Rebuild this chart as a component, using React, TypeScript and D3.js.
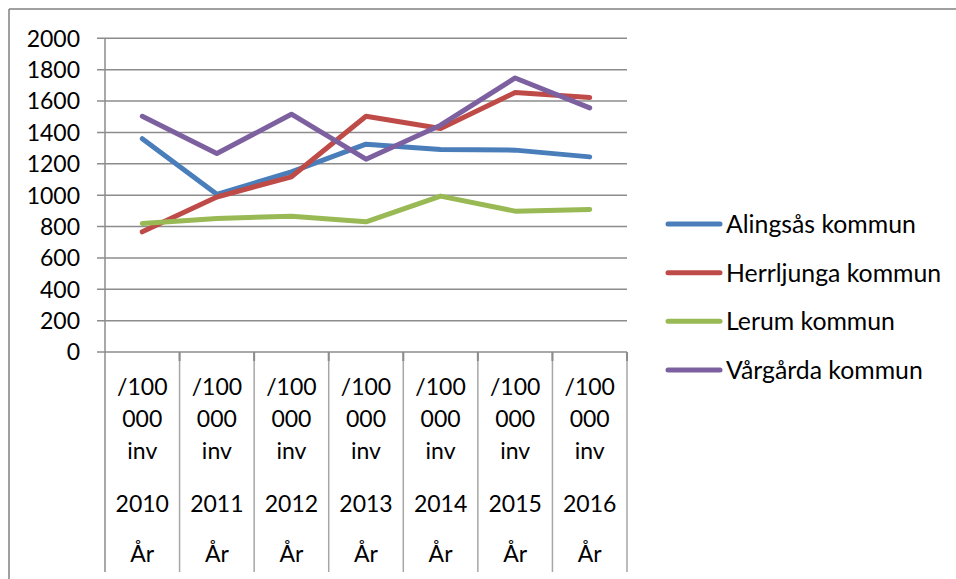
import React from 'react'
import * as d3 from 'd3'

const years = ['2010', '2011', '2012', '2013', '2014', '2015', '2016']
const unitLines = ['/100', '000', 'inv']
const yearPrefix = 'År'
const yTicks = [0, 200, 400, 600, 800, 1000, 1200, 1400, 1600, 1800, 2000]

const alingsas = [1360, 1005, 1148, 1325, 1291, 1287, 1244]
const herrljunga = [766, 988, 1117, 1503, 1425, 1654, 1622]
const lerum = [820, 851, 866, 830, 994, 898, 909]
const vargarda = [1503, 1265, 1516, 1229, 1446, 1747, 1556]

const seriesNames = ['Alingsås kommun', 'Herrljunga kommun', 'Lerum kommun', 'Vårgårda kommun']
const seriesColors = ['#4a7ebb', '#be4b48', '#98b954', '#7d60a0']

const W = 956
const H = 579
const plot = { left: 105, right: 627, top: 38.3, bottom: 352 }
const font = 'Lato, "Open Sans", sans-serif'

const App: React.FC = () => {
  const series = [alingsas, herrljunga, lerum, vargarda]

  const x = d3.scaleBand<string>()
    .domain(years)
    .range([plot.left, plot.right])
    .paddingInner(0)
    .paddingOuter(0)

  const y = d3.scaleLinear()
    .domain([0, 2000])
    .range([plot.bottom, plot.top])

  const line = d3.line<number>()
    .x((_, i) => (x(years[i]) ?? 0) + x.bandwidth() / 2)
    .y(d => y(d))

  const legendY = d3.scalePoint<string>()
    .domain(seriesNames)
    .range([224, 370])

  const gridColor = '#8c8c8c'

  return (
    <svg
      width={W}
      height={H}
      style={{ position: 'absolute', left: 0, top: 0, background: '#fff' }}
    >
      {/* chart frame (top & left visible) */}
      <line x1={9} y1={9} x2={W} y2={9} stroke="#808080" strokeWidth={1.5} />
      <line x1={9} y1={9} x2={9} y2={H} stroke="#808080" strokeWidth={1.5} />

      {/* gridlines + y labels */}
      {yTicks.map(t => (
        <g key={t}>
          <line
            x1={97}
            x2={plot.right}
            y1={y(t)}
            y2={y(t)}
            stroke={gridColor}
            strokeWidth={1.5}
          />
          <text
            x={80}
            y={y(t) + 8.4}
            textAnchor="end"
            fontFamily={font}
            fontSize={23}
            fill="#000"
          >
            {t}
          </text>
        </g>
      ))}

      {/* y axis */}
      <line x1={plot.left} x2={plot.left} y1={plot.top} y2={572} stroke={gridColor} strokeWidth={1.5} />

      {/* category dividers */}
      {years.map(yr => {
        const xr = (x(yr) ?? 0) + x.bandwidth()
        return (
          <g key={yr}>
            <line x1={xr} x2={xr} y1={plot.bottom} y2={572} stroke="#a6a6a6" strokeWidth={1.5} />
            <line x1={xr} x2={xr} y1={plot.bottom} y2={plot.bottom + 9} stroke={gridColor} strokeWidth={2} />
          </g>
        )
      })}

      {/* category labels */}
      {years.map(yr => {
        const cx = (x(yr) ?? 0) + x.bandwidth() / 2
        return (
          <g key={'l' + yr} fontFamily={font} fontSize={23} textAnchor="middle" fill="#000">
            {unitLines.map((u, j) => (
              <text key={u} x={cx} y={395 + j * 32}>{u}</text>
            ))}
            <text x={cx} y={512}>{yr}</text>
            <text x={cx} y={562}>{yearPrefix}</text>
          </g>
        )
      })}

      {/* series lines */}
      {series.map((s, i) => (
        <path
          key={seriesNames[i]}
          d={line(s) ?? ''}
          fill="none"
          stroke={seriesColors[i]}
          strokeWidth={5}
          strokeLinejoin="round"
          strokeLinecap="round"
        />
      ))}

      {/* legend */}
      {seriesNames.map((name, i) => {
        const ly = legendY(name) ?? 0
        return (
          <g key={'lg' + name}>
            <line x1={668} x2={720} y1={ly} y2={ly} stroke={seriesColors[i]} strokeWidth={5} strokeLinecap="round" />
            <text x={726} y={ly + 9} fontFamily={font} fontSize={24.8} fill="#000">{name}</text>
          </g>
        )
      })}
    </svg>
  )
}

export default App
